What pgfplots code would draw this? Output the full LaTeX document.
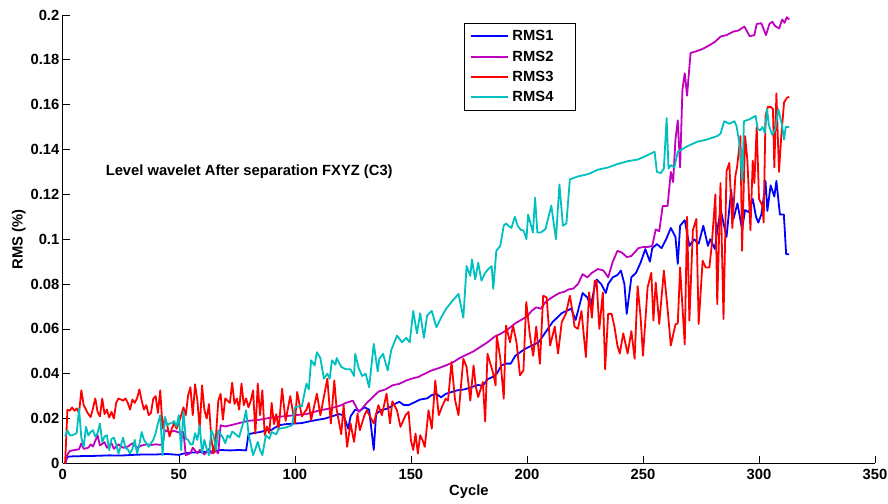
\documentclass[border=0pt]{standalone}
\usepackage{fontspec}
\setmainfont{Liberation Sans}
\usepackage{pgfplots}
\pgfplotsset{compat=1.18}
\definecolor{c1}{rgb}{0,0,1}
\definecolor{c2}{rgb}{0.75,0,0.75}
\definecolor{c3}{rgb}{1,0,0}
\definecolor{c4}{rgb}{0,0.75,0.75}
\newcommand{\ff}{\fontsize{14.8}{17}\selectfont\bfseries}
\begin{document}
\begin{tikzpicture}
\path[use as bounding box] (-63pt,-40pt) rectangle (828pt,465pt);
\begin{axis}[
  scale only axis, width=815pt, height=450pt,
  xmin=0, xmax=350, ymin=0, ymax=0.2,
  axis x line*=bottom, axis y line*=left, axis line style={-, line width=0.8pt},
  xtick={0,50,100,150,200,250,300,350},
  xticklabels={0,50,100,150,200,250,300,350},
  ytick={0,0.02,0.04,0.06,0.08,0.1,0.12,0.14,0.16,0.18,0.2},
  yticklabels={0,0.02,0.04,0.06,0.08,0.1,0.12,0.14,0.16,0.18,0.2},
  tick align=inside, major tick length=7pt, tick style={black, line width=0.6pt},
  ticklabel style={font=\ff},
  xticklabel style={yshift=-2.5pt},
  yticklabel style={xshift=0pt},
  xlabel={Cycle}, ylabel={RMS (\%)},
  every axis x label/.style={at={(axis description cs:0.5,-0.064)},anchor=center,font=\ff},
  every axis y label/.style={at={(axis description cs:-0.054,0.5)},rotate=90,anchor=center,font=\ff},
  legend style={at={(rel axis cs:0.4945,0.982)}, anchor=north west, draw=black, line width=0.8pt, font=\ff, legend cell align=left, inner xsep=5pt, inner ysep=5pt, row sep=4.6pt},
  legend image code/.code={\draw[#1] (0pt,0pt) -- (37pt,0pt); \path (39pt,0pt);},
  every axis plot/.append style={line width=1.8pt, line join=round},
]
\addplot[c1] coordinates {(1,0) (2,0.003) (5,0.0032) (10,0.0033) (15,0.0034) (20,0.0036) (25,0.0035) (30,0.0038) (35,0.004) (40,0.004) (45,0.0042) (50,0.0038) (52,0.0044) (55,0.0048) (58,0.005) (62,0.0052) (66,0.0055) (68,0.006) (72,0.0058) (76,0.006) (79,0.0058) (80,0.013) (82,0.0135) (85,0.014) (88,0.0148) (90,0.015) (93,0.017) (96,0.0175) (100,0.0178) (103,0.018) (106,0.0187) (110,0.0195) (113,0.02) (116,0.021) (119,0.022) (121,0.0215) (123,0.0155) (124,0.021) (126,0.024) (128,0.0235) (130,0.025) (132,0.024) (134,0.006) (135,0.022) (137,0.0237) (140,0.0245) (143,0.0265) (145,0.0275) (147,0.026) (149,0.026) (151,0.027) (154,0.0285) (157,0.029) (159,0.0305) (161,0.031) (163,0.0295) (165,0.031) (168,0.032) (170,0.0326) (173,0.033) (176,0.034) (179,0.035) (181,0.0345) (183,0.0375) (185,0.0385) (187,0.04) (189,0.0437) (191,0.0445) (193,0.0445) (195,0.048) (197,0.0495) (199,0.051) (201,0.052) (203,0.053) (205,0.054) (207,0.057) (209,0.06) (211,0.063) (213,0.065) (215,0.067) (217,0.068) (219,0.069) (221,0.064) (223,0.072) (224,0.076) (226,0.074) (227.5,0.07) (229,0.078) (230,0.082) (232,0.08) (234,0.076) (235,0.08) (237,0.083) (239,0.084) (240.5,0.086) (242,0.08) (243,0.0667) (245,0.083) (247,0.085) (249,0.0896) (251,0.0956) (253,0.09) (254,0.096) (256,0.0978) (258,0.096) (260,0.1) (262,0.105) (264,0.101) (265,0.089) (266,0.106) (268,0.1085) (270,0.097) (272,0.1) (274,0.098) (276,0.106) (278,0.097) (279,0.1) (281,0.0956) (282,0.104) (283.5,0.113) (286,0.101) (288,0.122) (289,0.109) (290.7,0.116) (292.7,0.1044) (294,0.113) (295.6,0.112) (297.3,0.118) (298.7,0.11) (299.7,0.1074) (301,0.111) (302.2,0.12) (302.8,0.126) (303.6,0.1126) (305,0.124) (306.6,0.119) (307.5,0.126) (309,0.111) (310.7,0.111) (311.7,0.0933) (313,0.0933)};
\addlegendentry{\makebox[56pt][l]{RMS1}}
\addplot[c2] coordinates {(1,0) (2,0.004) (3,0.0055) (5,0.006) (7,0.0063) (8,0.009) (9,0.0065) (11,0.007) (12,0.0085) (13,0.0075) (15,0.0126) (16,0.008) (18,0.0095) (19,0.007) (21,0.009) (22,0.0065) (24,0.0085) (26,0.007) (28,0.0075) (30,0.009) (32,0.007) (34,0.008) (36,0.0085) (38,0.0082) (40,0.0085) (42,0.0083) (43,0.0086) (44,0.0148) (46,0.014) (48,0.0145) (50,0.0138) (52,0.014) (53,0.0037) (55,0.0045) (56,0.007) (58,0.0045) (59,0.006) (61,0.004) (63,0.0065) (64,0.0045) (66,0.0055) (67,0.0045) (68,0.017) (70,0.0165) (73,0.0172) (76,0.018) (80,0.019) (85,0.0195) (90,0.0205) (95,0.021) (100,0.0215) (105,0.022) (110,0.0235) (115,0.0245) (118,0.0253) (120,0.026) (122,0.027) (125,0.028) (127.5,0.023) (129,0.0245) (131,0.027) (133,0.029) (136,0.032) (139,0.033) (142,0.0348) (145,0.0355) (148,0.037) (151,0.038) (153,0.0385) (156,0.04) (159,0.0415) (162,0.0425) (165,0.0437) (168,0.045) (171,0.047) (174,0.0485) (177,0.05) (180,0.052) (183,0.054) (186,0.0565) (189,0.058) (192,0.06) (195,0.0625) (197.5,0.064) (200,0.0655) (202,0.068) (204,0.0696) (206,0.069) (208,0.072) (210,0.0735) (212,0.0748) (214,0.076) (216,0.0765) (218,0.0776) (220,0.078) (222,0.08) (224,0.0844) (226,0.083) (228,0.085) (230.6,0.0867) (233,0.086) (235,0.083) (237,0.09) (239,0.0948) (241,0.094) (243,0.092) (245,0.0925) (248,0.096) (250,0.0965) (252,0.0965) (254,0.097) (255.5,0.1044) (257,0.1035) (258.5,0.1148) (260.6,0.1148) (262,0.13) (263,0.1255) (264,0.1444) (265,0.153) (266,0.132) (267,0.1667) (268,0.174) (269,0.164) (270.5,0.183) (273.5,0.184) (276,0.185) (279,0.1867) (281,0.188) (283.5,0.1904) (286,0.191) (289,0.1926) (291,0.193) (293.7,0.1948) (296,0.1905) (298,0.191) (299,0.196) (301,0.1963) (303,0.191) (304.5,0.196) (305.7,0.197) (307,0.195) (308.7,0.194) (310,0.198) (311,0.1965) (312,0.199) (313,0.198)};
\addlegendentry{RMS2}
\addplot[c3] coordinates {(1,0) (2,0.024) (3,0.0235) (4,0.025) (5,0.0235) (6,0.0245) (7,0.0225) (8,0.0326) (9,0.026) (10,0.024) (11,0.022) (12,0.0207) (13,0.0245) (14,0.029) (15,0.023) (16,0.021) (17,0.0289) (18,0.022) (19,0.024) (20,0.0205) (21,0.023) (22,0.02) (23,0.027) (24,0.029) (25,0.0285) (26,0.028) (27,0.029) (28,0.027) (29,0.024) (30,0.0285) (31,0.027) (32,0.029) (33,0.033) (34,0.028) (35,0.024) (36,0.026) (37,0.0215) (38,0.0225) (39,0.0289) (40,0.03) (41,0.0225) (42,0.0326) (43,0.0156) (44,0.0205) (45,0.017) (46,0.012) (47,0.0155) (48,0.018) (49,0.0155) (50,0.018) (51,0.0215) (52,0.025) (53,0.0215) (54,0.0304) (55,0.034) (56,0.0215) (57,0.0353) (58,0.028) (59,0.015) (60,0.0348) (61,0.024) (62,0.02) (63,0.0265) (64,0.011) (65,0.0045) (66,0.012) (67,0.028) (68,0.031) (69,0.0195) (70,0.029) (71,0.028) (72,0.027) (73,0.036) (74,0.0265) (75,0.029) (76,0.024) (77,0.0356) (78,0.026) (79,0.029) (80,0.025) (81,0.028) (82,0.0326) (83,0.0133) (84,0.0356) (85,0.0215) (86,0.0326) (87,0.0126) (88,0.0165) (89,0.0135) (90,0.027) (91,0.0175) (92,0.022) (93,0.015) (94.5,0.0333) (96,0.019) (98,0.03) (100,0.0178) (101,0.0319) (103,0.021) (105,0.024) (106,0.027) (107,0.0193) (109.5,0.0311) (111,0.0215) (114,0.0378) (115.5,0.0178) (117,0.037) (118,0.024) (120,0.013) (121,0.026) (122.5,0.0074) (124,0.0178) (125.5,0.0096) (127,0.0222) (128,0.0148) (130,0.0215) (131,0.0237) (134,0.0178) (136,0.026) (137.5,0.0215) (139.5,0.0311) (141,0.0178) (142,0.0277) (144,0.0237) (145.5,0.0163) (147.7,0.0215) (149,0.023) (150,0.0104) (151,0.006) (152,0.0133) (153,0.0044) (154,0.0126) (155,0.0104) (156,0.0074) (157.6,0.0237) (159,0.0155) (160.5,0.037) (162,0.0215) (163.5,0.0255) (165,0.0289) (166,0.028) (167.5,0.0452) (169,0.0285) (170.5,0.0215) (172.6,0.0467) (174,0.043) (175.6,0.028) (177,0.0437) (178,0.034) (179,0.0296) (181,0.0363) (182,0.0187) (183,0.0489) (185.5,0.04) (186.5,0.0348) (187,0.057) (188.5,0.047) (190,0.0289) (191,0.0615) (192.7,0.054) (194,0.0615) (195.5,0.054) (197,0.0393) (198.5,0.0415) (199.7,0.072) (201.3,0.057) (202.7,0.048) (204,0.061) (205.6,0.0444) (207,0.0748) (208.5,0.074) (210,0.0526) (212,0.061) (213.4,0.049) (215,0.063) (216.8,0.0667) (218.5,0.0748) (219.8,0.0667) (220.5,0.061) (222,0.06) (223.5,0.068) (225.4,0.0474) (226.8,0.0763) (228,0.065) (229.2,0.0815) (230,0.0815) (231.2,0.06) (232.7,0.0763) (233.7,0.042) (235,0.0667) (236.5,0.0667) (237.7,0.061) (239,0.0525) (240,0.049) (241.5,0.058) (243.4,0.049) (245,0.059) (246.4,0.0467) (247.7,0.079) (249,0.065) (250,0.048) (252,0.0786) (253.6,0.085) (254.5,0.0637) (255.5,0.0807) (257,0.0622) (259,0.086) (260.5,0.07) (262,0.0526) (264,0.062) (265,0.0625) (266,0.0874) (267,0.07) (268,0.053) (269,0.11) (270,0.0637) (271.5,0.104) (273,0.109) (274,0.0622) (275.7,0.0904) (277,0.0874) (278.6,0.0874) (279.6,0.097) (281.2,0.12) (282,0.071) (283.4,0.125) (284.7,0.0644) (286,0.1304) (287.2,0.134) (288.5,0.105) (289.8,0.128) (290.6,0.1326) (292,0.146) (292.7,0.0948) (294,0.146) (295,0.135) (296.3,0.104) (297.3,0.135) (298,0.125) (299,0.150) (300,0.118) (301.4,0.115) (302,0.1074) (302.8,0.155) (303.8,0.159) (305,0.159) (306,0.158) (306.6,0.132) (307.5,0.165) (308.6,0.130) (309.6,0.146) (310.8,0.161) (312,0.163) (313,0.1635)};
\addlegendentry{RMS3}
\addplot[c4] coordinates {(1,0.012) (2,0.0148) (3,0.0126) (4,0.0125) (5,0.013) (6,0.0135) (7,0.0244) (8,0.0115) (9,0.0074) (10,0.0163) (11,0.0125) (12,0.014) (13,0.0148) (14,0.012) (15,0.0135) (16,0.0178) (17,0.0095) (18,0.012) (19,0.0126) (20,0.0059) (21,0.011) (22,0.0115) (23,0.0085) (24,0.0044) (25,0.008) (26,0.0115) (27,0.007) (28,0.0063) (29,0.0044) (30,0.0065) (31,0.0105) (32,0.0044) (33,0.0085) (34,0.014) (35,0.0105) (36,0.009) (37,0.0074) (38,0.009) (39,0.0105) (40,0.0135) (41,0.0178) (42,0.0215) (43,0.0037) (44,0.0207) (45,0.017) (46,0.0178) (47,0.018) (48,0.0189) (49,0.0165) (50,0.0215) (51,0.0059) (52,0.0233) (53,0.011) (54,0.0105) (55,0.0085) (56,0.0085) (57,0.0135) (58,0.0105) (59,0.017) (60,0.0045) (61,0.0105) (62,0.0065) (63,0.0037) (64,0.0148) (65,0.0125) (66,0.006) (67,0.0148) (68,0.013) (69,0.0115) (70,0.009) (71,0.0125) (72,0.0115) (73,0.0142) (74,0.0135) (75,0.0125) (76,0.0118) (77,0.0155) (78,0.019) (79,0.0237) (80,0.0135) (81,0.0085) (82,0.0037) (83,0.0065) (84,0.0096) (85,0.006) (86,0.0037) (87.5,0.0126) (89,0.011) (90,0.014) (92,0.013) (93,0.0155) (96,0.016) (98.8,0.017) (100,0.025) (102,0.0255) (103,0.0255) (105,0.0356) (106,0.033) (107,0.046) (108.5,0.0437) (109.5,0.0496) (111,0.047) (112.5,0.0378) (114,0.04) (115,0.0378) (116,0.046) (117.5,0.044) (118,0.047) (120,0.043) (122,0.042) (124,0.042) (125.5,0.039) (126,0.0489) (127.5,0.0425) (129,0.039) (130.5,0.04) (132,0.034) (134,0.0533) (135.7,0.041) (136.4,0.0467) (138,0.0489) (140,0.0415) (141.5,0.0504) (144,0.057) (146.2,0.054) (148,0.056) (149.5,0.054) (151,0.068) (152.6,0.058) (154,0.067) (155.6,0.056) (157,0.066) (159,0.068) (161,0.0607) (163,0.065) (165.2,0.069) (168,0.0726) (170.5,0.0756) (172.6,0.065) (174,0.088) (175.6,0.0837) (176.3,0.091) (177.7,0.082) (179,0.0895) (180.4,0.0815) (182,0.085) (183.4,0.0867) (184.8,0.088) (185.5,0.0778) (186.8,0.0948) (188.5,0.097) (190,0.106) (191,0.107) (192,0.106) (193.3,0.105) (194.8,0.11) (196,0.106) (197.5,0.104) (198.5,0.104) (199.8,0.1) (200.5,0.111) (202.6,0.103) (203.5,0.1185) (204.5,0.103) (206,0.103) (208,0.1045) (210.5,0.115) (212.5,0.1) (214,0.1244) (215.5,0.106) (217,0.107) (218.5,0.1267) (222,0.128) (226.3,0.129) (230.6,0.131) (235,0.132) (239,0.1335) (243.5,0.1348) (247.7,0.1355) (251,0.137) (255,0.139) (256,0.13) (257.7,0.1295) (259,0.1315) (260.2,0.154) (261,0.1315) (262,0.133) (263.5,0.132) (265,0.139) (269.2,0.1415) (273.5,0.1435) (277.8,0.1445) (282,0.146) (283.4,0.147) (285,0.1526) (287.2,0.1515) (289.4,0.1526) (290.3,0.1505) (291.5,0.143) (292.8,0.126) (293.5,0.1526) (296,0.1535) (298.5,0.155) (299.5,0.149) (300.5,0.1485) (301.5,0.15) (302.5,0.1474) (303.5,0.158) (304.2,0.151) (305.7,0.1465) (307,0.149) (308.3,0.158) (309.8,0.1515) (310.8,0.1444) (311.5,0.15) (313,0.15)};
\addlegendentry{RMS4}
\node[anchor=west, font=\ff] at (axis cs:17,0.1302) {Level wavelet After separation FXYZ (C3)};
\end{axis}
\end{tikzpicture}
\end{document}
